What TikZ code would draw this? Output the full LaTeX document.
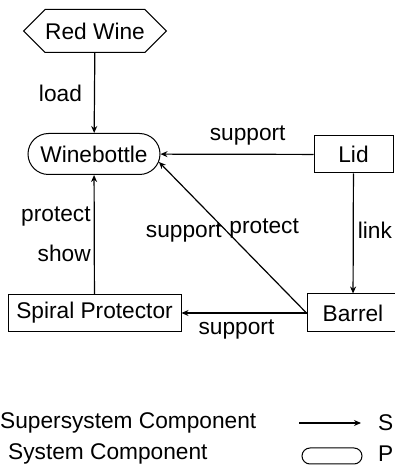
\documentclass[tikz,border=0pt]{standalone}
\usepackage{fontspec}
\setmainfont{Liberation Sans}
\usetikzlibrary{shapes.misc,shapes.symbols,arrows.meta}

\begin{document}
\begin{tikzpicture}[x=1pt, y=1pt, font=\fontsize{22.7}{26}\selectfont,
    comp/.style={draw, line width=1pt, inner sep=0pt},
    rel/.style={line width=1.2pt, -{Stealth[length=7pt,width=6pt]}},
    lab/.style={inner sep=2pt}]
    \useasboundingbox (0,0) rectangle (395,467);
    \clip (0,0) rectangle (395,467);

    % components
    \node[comp, signal, signal to=west and east, minimum width=136, minimum height=43] (wine) at (95,436) {Red Wine};
    \node[comp, rounded rectangle, minimum width=132, minimum height=41] (bottle) at (94,313) {Winebottle};
    \node[comp, rectangle, minimum width=79, minimum height=37] (lid) at (353.5,312.5) {Lid};
    \node[comp, rectangle, minimum width=92, minimum height=38] (barrel) at (353,154) {Barrel};
    \node[comp, rectangle, minimum width=173, minimum height=37] (spiral) at (94.5,154) {Spiral Protector};

    % relations
    \draw[rel] (wine) -- node[lab, pos=0.5, left=10pt] {load} (bottle);
    \draw[rel] (lid) -- node[lab, pos=0.43, above=6pt] {support} (bottle);
    \draw[rel] (lid) -- node[lab, pos=0.47, right=2pt] {link} (barrel);
    \draw[rel] (barrel.west) -- node[lab, pos=0.53, left=4pt] {support}
        node[lab, pos=0.56, right=3pt] {protect} (bottle.-7);
    \draw[rel] (barrel.west) -- node[lab, pos=0.56, below=4pt] {support} (spiral);
    \draw[rel] (spiral) -- node[lab, pos=0.65, left=1pt] {protect}
        node[lab, pos=0.34, left=1pt] {show} (bottle);

    % legend
    \node[anchor=west, inner sep=0pt] (super) at (0,44) {Supersystem Component};
    \node[anchor=west, inner sep=0pt] (system) at (8,13) {System Component};
    \coordinate (la) at (299,44);
    \coordinate (lb) at (361,44);
    \draw[rel] (la) -- (lb);
    \node[anchor=west, inner sep=0pt] (lrel) at (378,44) {S};
    \node[comp, rounded rectangle, minimum width=60, minimum height=16] (lprod) at (332,11) {};
    \node[anchor=west, inner sep=0pt] (lp) at (378,13) {P};
\end{tikzpicture}
\end{document}
